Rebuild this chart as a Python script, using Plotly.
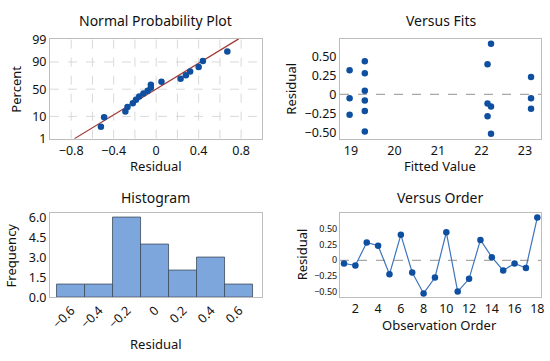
import plotly.graph_objects as go
from statistics import NormalDist, mean, stdev

# ---- data ----
observation = list(range(1, 19))
residuals = [-0.05, -0.08, 0.28, 0.23, -0.22, 0.40, -0.19, -0.52, -0.27,
             0.44, -0.49, -0.29, 0.32, 0.05, -0.16, -0.05, -0.12, 0.67]
fitted = [18.97, 19.32, 19.32, 23.14, 19.32, 22.14, 23.14, 22.22, 18.97,
          19.32, 19.32, 22.14, 18.97, 19.32, 22.22, 23.14, 22.14, 22.22]
prob_ticks = [1, 10, 50, 90, 99]
npp_x_ticks = [-0.8, -0.4, 0, 0.4, 0.8]
npp_x_labels = ["\u22120.8", "\u22120.4", "0", "0.4", "0.8"]
res_ticks = [-0.5, -0.25, 0, 0.25, 0.5]
res_labels = ["\u22120.50", "\u22120.25", "0", "0.25", "0.50"]
fit_ticks = [19, 20, 21, 22, 23]
hist_x_ticks = [-0.6, -0.4, -0.2, 0, 0.2, 0.4, 0.6]
hist_x_labels = ["\u22120.6", "\u22120.4", "\u22120.2", "0", "0.2", "0.4", "0.6"]
hist_y_ticks = [0, 1.5, 3.0, 4.5, 6.0]
order_ticks = [2, 4, 6, 8, 10, 12, 14, 16, 18]

W, H = 550, 361
FONT = "Noto Sans"
MARK = "#0F4FA0"
FRAME = "#BDBDBD"
GRID = "#D9D9D9"

nd = NormalDist()
n = len(residuals)
sorted_res = sorted(residuals)
z_pos = [nd.inv_cdf((i + 1 - 0.3) / (n + 0.4)) for i in range(n)]
mu, sd = mean(residuals), stdev(residuals)
z_lo, z_hi = -2.33, 2.37
prob_z = [nd.inv_cdf(p / 100) for p in prob_ticks]


def px_dom_x(a, b):
    return [a / W, b / W]


def px_dom_y(top, bottom):
    return [1 - bottom / H, 1 - top / H]


fig = go.Figure()

# Normal probability plot
fig.add_trace(go.Scatter(x=[mu + sd * z_lo, mu + sd * z_hi], y=[z_lo, z_hi], mode="lines",
                         line=dict(color="#A33A35", width=1.2), xaxis="x", yaxis="y",
                         hoverinfo="skip"))
fig.add_trace(go.Scatter(x=sorted_res, y=z_pos, mode="markers",
                         marker=dict(color=MARK, size=6.5), xaxis="x", yaxis="y"))

# Versus fits
fig.add_trace(go.Scatter(x=fitted, y=residuals, mode="markers",
                         marker=dict(color=MARK, size=6.5), xaxis="x2", yaxis="y2"))

# Histogram
fig.add_trace(go.Histogram(x=residuals, xbins=dict(start=-0.7, end=0.7, size=0.2),
                           marker=dict(color="#7DA6DC", line=dict(color="#3C4A5C", width=0.8)),
                           xaxis="x3", yaxis="y3"))

# Versus order
fig.add_trace(go.Scatter(x=observation, y=residuals, mode="lines+markers",
                         line=dict(color="#3D74BC", width=1.2),
                         marker=dict(color=MARK, size=6.5), xaxis="x4", yaxis="y4"))

frame = dict(showline=True, mirror=True, linecolor=FRAME, linewidth=1, zeroline=False,
             ticks="", tickfont=dict(family=FONT, size=12.5, color="#111"))

fig.update_layout(
    width=W, height=H, margin=dict(l=0, r=0, t=0, b=0),
    paper_bgcolor="white", plot_bgcolor="white", showlegend=False,
    font=dict(family=FONT, color="#111"),
    bargap=0,
    xaxis=dict(domain=px_dom_x(49.3, 263.3), range=[-1.0, 1.0], anchor="y",
               tickvals=npp_x_ticks, ticktext=npp_x_labels,
               showgrid=False, **frame),
    yaxis=dict(domain=px_dom_y(32.3, 136.7), range=[z_lo, z_hi], anchor="x",
               tickvals=prob_z, ticktext=[str(p) for p in prob_ticks],
               showgrid=False, **frame),
    xaxis2=dict(domain=px_dom_x(341.5, 544), range=[18.75, 23.37], anchor="y2",
                tickvals=fit_ticks, showgrid=False, **frame),
    yaxis2=dict(domain=px_dom_y(32.3, 136.7), range=[-0.585, 0.736], anchor="x2",
                tickvals=res_ticks, ticktext=res_labels, showgrid=False, **frame),
    xaxis3=dict(domain=px_dom_x(49.3, 263.3), range=[-0.752, 0.766], anchor="y3",
                tickvals=hist_x_ticks, ticktext=hist_x_labels, tickangle=-45,
                showgrid=False, **frame),
    yaxis3=dict(domain=px_dom_y(215, 302.7), range=[0, 6.3], anchor="x3",
                tickvals=hist_y_ticks, tickformat=".1f", showgrid=False, **frame),
    xaxis4=dict(domain=px_dom_x(341.5, 544), range=[0.65, 18.33], anchor="y4",
                tickvals=order_ticks, showgrid=False, **frame),
    yaxis4=dict(domain=px_dom_y(215, 302.7), range=[-0.58, 0.735], anchor="x4",
                tickvals=res_ticks, ticktext=res_labels, showgrid=False,
                **{**frame, "tickfont": dict(family=FONT, size=9, color="#111")}),
)

shapes = []
# NPP grid lines (dashed)
for gx in [-0.8, -0.6, -0.4, -0.2, 0, 0.2, 0.4, 0.6, 0.8]:
    shapes.append(dict(type="line", xref="x", yref="y domain", x0=gx, x1=gx, y0=0, y1=1,
                       line=dict(color=GRID, width=1, dash="dash"), layer="below"))
for gz in prob_z[1:4]:
    shapes.append(dict(type="line", xref="x domain", yref="y", x0=0, x1=1, y0=gz, y1=gz,
                       line=dict(color=GRID, width=1, dash="dash"), layer="below"))
# zero reference lines
for xr, yr in [("x2", "y2"), ("x4", "y4")]:
    shapes.append(dict(type="line", xref=f"{xr} domain", yref=yr, x0=0, x1=1, y0=0, y1=0,
                       line=dict(color="#A8A8A8", width=1.2, dash="dash"), layer="below"))
fig.update_layout(shapes=shapes)

ann = []


def text(x, y, s, size, angle=0):
    ann.append(dict(x=x / W, y=1 - y / H, xref="paper", yref="paper", text=s,
                    showarrow=False, textangle=angle, xanchor="center", yanchor="middle",
                    font=dict(family=FONT, size=size, color="#111")))


text(156, 13, "Normal Probability Plot", 14)
text(443, 13, "Versus Fits", 14)
text(156, 198, "Histogram", 14)
text(442, 198, "Versus Order", 14)
text(156, 165, "Residual", 13)
text(15, 84.5, "Percent", 13, -90)
text(442, 165, "Fitted Value", 13)
text(292, 84.5, "Residual", 13, -90)
text(156, 352, "Residual", 13)
text(10, 259, "Frequency", 13, -90)
text(442, 332, "Observation Order", 13)
text(303, 258, "Residual", 13, -90)
fig.update_layout(annotations=ann)

fig.write_html("out.html", config={"displayModeBar": False},
               post_script="document.body.style.margin='0';document.body.style.overflow='hidden';")
